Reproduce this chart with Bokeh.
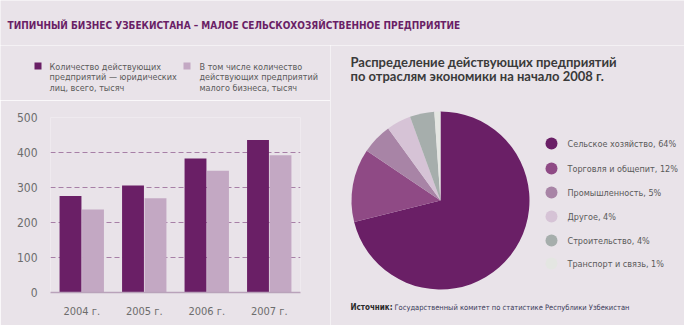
import numpy as np
from bokeh.plotting import figure
from bokeh.layouts import column, row
from bokeh.models import Range1d, FactorRange, FixedTicker, ColumnDataSource
from bokeh.transform import dodge
from bokeh.core.properties import value
from bokeh.embed import file_html
from bokeh.resources import INLINE

# ---------------- data ----------------
years = ["2004 г.", "2005 г.", "2006 г.", "2007 г."]
total_firms = [276, 306, 383, 436]      # всего, тысяч
small_firms = [237, 269, 348, 392]      # малый бизнес, тысяч
y_ticks = [0, 100, 200, 300, 400, 500]

sectors = ["Сельское хозяйство", "Торговля и общепит", "Промышленность",
           "Другое", "Строительство", "Транспорт и связь"]
shares = [64, 12, 5, 4, 4, 1]

series_labels = [["Количество действующих", "предприятий — юридических", "лиц, всего, тысяч"],
                 ["В том числе количество", "действующих предприятий", "малого бизнеса, тысяч"]]
title_text = "ТИПИЧНЫЙ БИЗНЕС УЗБЕКИСТАНА – МАЛОЕ СЕЛЬСКОХОЗЯЙСТВЕННОЕ ПРЕДПРИЯТИЕ"
pie_title = ["Распределение действующих предприятий",
             "по отраслям экономики на начало 2008 г."]
source_head = "Источник:"
source_body = "Государственный комитет по статистике Республики Узбекистан"

# ---------------- styles ----------------
BG = "#e9e3e9"
DARK = "#6a1f66"
LIGHT = "#c3a8c3"
PIE_COLORS = ["#6a1f66", "#8f4a85", "#a884a6", "#d6c3d6", "#a6aeac", "#e4e6e2"]
NARROW_NAME = "DejaVu Sans Condensed, Roboto"
NARROW = value(NARROW_NAME)
BOLDF = value("Lato")
GREY = "#5a5a5a"


def canvas(w, h):
    p = figure(width=w, height=h, x_range=Range1d(0, w), y_range=Range1d(0, h),
               x_axis_type=None, y_axis_type=None, toolbar_location=None,
               output_backend="svg", min_border=0)
    p.background_fill_color = BG
    p.border_fill_color = BG
    p.outline_line_color = None
    p.grid.visible = False
    p.frame_align = False
    return p


# ---------------- title ----------------
tf = canvas(684, 45)
tf.text(x=[7], y=[20], text=[title_text], text_font=NARROW, text_font_size="10px",
        text_font_style="bold", text_color=DARK, text_baseline="middle")

# ---------------- bar legend ----------------
lf = canvas(330, 55)
sq_x = [37.5, 186.5]
tx_x = [49, 199]
for i, col in enumerate([DARK, LIGHT]):
    lf.rect(x=[sq_x[i]], y=[34.5], width=7, height=7, fill_color=col, line_color=None)
    lf.text(x=[tx_x[i]] * 3, y=[34, 23.5, 13], text=series_labels[i], text_font=NARROW,
            text_font_size="9px", text_color=GREY, text_baseline="middle")

# ---------------- bar chart ----------------
src = ColumnDataSource(dict(year=years, total=total_firms, small=small_firms))
bf = figure(width=330, height=225, x_range=FactorRange(factors=years), y_range=Range1d(0, 500),
            toolbar_location=None, output_backend="svg",
            min_border_left=50, min_border_right=30, min_border_top=17, min_border_bottom=33)
bf.frame_align = False
bf.background_fill_color = BG
bf.border_fill_color = BG
bf.outline_line_color = None
bf.vbar(x=dodge("year", -0.18, range=bf.x_range), top="total", width=0.35, source=src,
        fill_color=DARK, line_color=None)
bf.vbar(x=dodge("year", 0.18, range=bf.x_range), top="small", width=0.35, source=src,
        fill_color=LIGHT, line_color=None)
bf.xgrid.visible = False
bf.ygrid.ticker = FixedTicker(ticks=y_ticks)
bf.ygrid.grid_line_color = "#a77fa6"
bf.ygrid.grid_line_dash = "5 3"
bf.ygrid.grid_line_width = 1
bf.yaxis.ticker = FixedTicker(ticks=y_ticks)
bf.yaxis.axis_line_color = None
bf.yaxis.major_tick_line_color = None
bf.yaxis.minor_tick_line_color = None
bf.yaxis.major_label_standoff = 7
bf.yaxis.major_label_text_font_size = "12px"
bf.yaxis.major_label_text_color = "#6d6d6d"
bf.yaxis.major_label_text_font = NARROW_NAME
bf.xaxis.axis_line_color = "#b9a2ba"
bf.xaxis.axis_line_width = 1.5
bf.xaxis.major_tick_line_color = None
bf.xaxis.minor_tick_line_color = None
bf.xaxis.major_label_standoff = 6
bf.xaxis.major_label_text_font_size = "11px"
bf.xaxis.major_label_text_color = "#6d6d6d"
bf.xaxis.major_label_text_font = NARROW_NAME

# ---------------- right panel: pie ----------------
rf = canvas(354, 280)
rf.text(x=[20, 20], y=[264, 250], text=pie_title, text_font=BOLDF, text_font_size="13px",
        text_font_style="bold", text_color="#3a3a3a", text_baseline="middle")

vals = np.array(shares, dtype=float)
frac = vals / vals.sum()
cum = np.concatenate([[0], np.cumsum(frac)])
start = np.pi / 2 - 2 * np.pi * cum[:-1]
end = np.pi / 2 - 2 * np.pi * cum[1:]
psrc = ColumnDataSource(dict(start=start, end=end, color=PIE_COLORS,
                             label=[f"{s}, {v}%" for s, v in zip(sectors, shares)]))
rf.wedge(x=110, y=125, radius=89, start_angle="start", end_angle="end", direction="clock",
         fill_color="color", line_color=None, source=psrc)

leg_y = [182, 157, 133, 109, 85, 62]
rf.scatter(x=[221] * 6, y=leg_y, size=12, marker="circle", fill_color=PIE_COLORS, line_color=None)
rf.text(x=[237] * 6, y=leg_y, text=psrc.data["label"], text_font=NARROW, text_font_size="9px",
        text_color=GREY, text_baseline="middle")

rf.text(x=[20], y=[18], text=[source_head], text_font=NARROW, text_font_size="8px",
        text_font_style="bold", text_color="#2a2a2a", text_baseline="middle")
rf.text(x=[64], y=[18], text=[source_body], text_font=NARROW, text_font_size="7.5px",
        text_color="#3a3a5a", text_baseline="middle")

layout = column(tf, row(column(lf, bf, spacing=0), rf, spacing=0), spacing=0)
open("out.html", "w").write(file_html(layout, INLINE))
